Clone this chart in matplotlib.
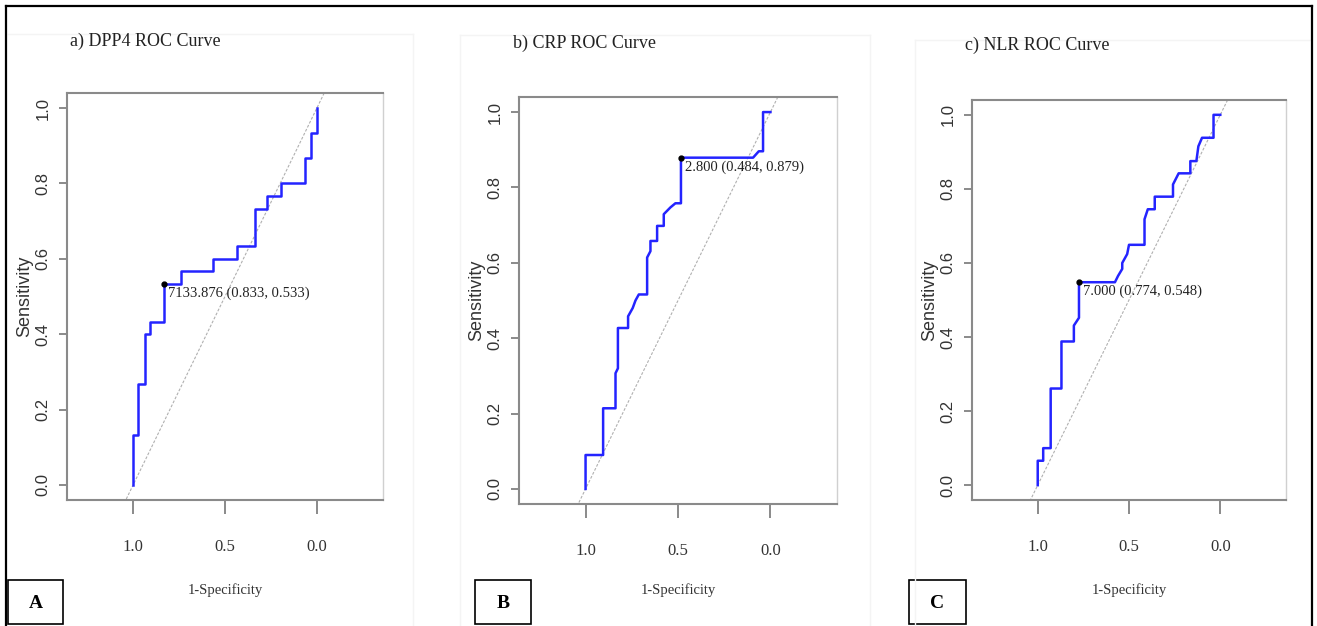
import matplotlib
matplotlib.use("Agg")
import matplotlib.pyplot as plt
from matplotlib.lines import Line2D
from matplotlib.patches import Rectangle
import numpy as np

# ---- data ----
titles = ["a) DPP4 ROC Curve", "b) CRP ROC Curve", "c) NLR ROC Curve"]
tags = ["A", "B", "C"]

spec_dpp4 = [1, 1, 0.976, 0.976, 0.938, 0.938, 0.907, 0.907, 0.833, 0.833,
             0.738, 0.738, 0.567, 0.567, 0.433, 0.433, 0.337, 0.337, 0.27, 0.27,
             0.197, 0.197, 0.066, 0.066, 0.03, 0.03, 0.0, 0.0]
sens_dpp4 = [0, 0.133, 0.133, 0.267, 0.267, 0.4, 0.4, 0.433, 0.433, 0.533,
             0.533, 0.567, 0.567, 0.6, 0.6, 0.633, 0.633, 0.733, 0.733, 0.767,
             0.767, 0.8, 0.8, 0.867, 0.867, 0.933, 0.933, 1.0]

spec_crp = [1, 1, 0.905, 0.905, 0.838, 0.838, 0.825, 0.825, 0.77, 0.77,
            0.745, 0.73, 0.712, 0.667, 0.667, 0.649, 0.649, 0.613, 0.613, 0.577,
            0.577, 0.541, 0.514, 0.484, 0.484, 0.094, 0.063, 0.04, 0.04, 0.0]
sens_crp = [0, 0.09, 0.09, 0.214, 0.214, 0.307, 0.32, 0.427, 0.427, 0.458,
            0.48, 0.5, 0.516, 0.516, 0.614, 0.631, 0.658, 0.658, 0.698, 0.698,
            0.729, 0.747, 0.758, 0.758, 0.879, 0.879, 0.896, 0.896, 1.0, 1.0]

spec_nlr = [1, 1, 0.97, 0.97, 0.929, 0.929, 0.87, 0.87, 0.802, 0.802,
            0.774, 0.774, 0.577, 0.56, 0.537, 0.537, 0.51, 0.5, 0.415, 0.415,
            0.397, 0.359, 0.359, 0.259, 0.259, 0.228, 0.164, 0.164, 0.131, 0.12,
            0.1, 0.037, 0.037, 0.0]
sens_nlr = [0, 0.066, 0.066, 0.1, 0.1, 0.261, 0.261, 0.388, 0.388, 0.431,
            0.452, 0.548, 0.548, 0.565, 0.584, 0.6, 0.624, 0.649, 0.649, 0.718,
            0.745, 0.745, 0.779, 0.779, 0.812, 0.842, 0.842, 0.875, 0.875, 0.915,
            0.938, 0.938, 1.0, 1.0]

thr_values = ["7133.876", "2.800", "7.000"]
thr_spec = [0.833, 0.484, 0.774]
thr_sens = [0.533, 0.879, 0.548]

xticks = [1.0, 0.5, 0.0]
xtick_labels = ["1.0", "0.5", "0.0"]
yticks = [0.0, 0.2, 0.4, 0.6, 0.8, 1.0]
ytick_labels = ["0.0", "0.2", "0.4", "0.6", "0.8", "1.0"]

curves = [(spec_dpp4, sens_dpp4), (spec_crp, sens_crp), (spec_nlr, sens_nlr)]

# ---- layout (pixels) ----
W, H = 1317, 626
axes_px = [(67, 93, 383, 500), (519, 97, 837, 504), (972, 100, 1286, 500)]
title_px = [(70, 41), (513, 43), (965, 45)]
tag_px = [(8, 580, 63, 624), (475, 580, 531, 624), (909, 580, 966, 624)]

SERIF = "Liberation Serif"
SANS = "Liberation Sans"


def fx(x):
    return x / W


def fy(y):
    return 1 - y / H


fig = plt.figure(figsize=(W / 100, H / 100), dpi=100)
fig.patch.set_facecolor("white")

# very faint borders of the pasted panel images
faint = "#f4f4f4"
for xs, ys in [((8, 413), (34, 34)), ((413, 413), (34, 626)),
               ((460, 870), (35, 35)), ((460, 460), (35, 626)), ((870, 870), (35, 626)),
               ((915, 1311), (40, 40)), ((915, 915), (40, 626))]:
    fig.add_artist(Line2D([fx(xs[0]), fx(xs[1])], [fy(ys[0]), fy(ys[1])],
                          transform=fig.transFigure, color=faint, lw=1))

for i in range(3):
    l, t, r, b = axes_px[i]
    ax = fig.add_axes([fx(l), fy(b), (r - l) / W, (b - t) / H])
    spec, sens = curves[i]

    ax.axline((1, 0), (0, 1), color="#b0b0b0", lw=0.8, ls=(0, (2.5, 1.5)), zorder=2)
    ax.plot(spec, sens, color="#2424ff", lw=1.8, zorder=3)
    ax.plot(thr_spec[i], thr_sens[i], "o", ms=3.5, color="black", zorder=4)
    label = "%s (%.3f, %.3f)" % (thr_values[i], thr_spec[i], thr_sens[i])
    ax.annotate(label, (thr_spec[i], thr_sens[i]), xytext=(3, -2),
                textcoords="offset points", ha="left", va="top",
                fontsize=10.5, family=SERIF, color="#222222")

    ax.set_xlim(1.36, -0.36)
    ax.set_ylim(-0.04, 1.04)
    ax.set_xticks(xticks)
    ax.set_xticklabels(xtick_labels, family=SERIF, fontsize=12, color="#333333")
    ax.set_yticks(yticks)
    ax.set_yticklabels(ytick_labels, family=SANS, fontsize=12, color="#333333",
                       rotation=90, va="center")
    ax.tick_params(axis="x", length=10, width=1.2, color="#777777", pad=18)
    ax.tick_params(axis="y", length=6, width=1.2, color="#777777", pad=6)

    for side in ["left", "top", "bottom"]:
        ax.spines[side].set_color("#8a8a8a")
        ax.spines[side].set_linewidth(1.5)
    ax.spines["right"].set_color("#d0d0d0")
    ax.spines["right"].set_linewidth(1.0)

    ax.set_xlabel("1-Specificity", family=SERIF, fontsize=10.5, color="#333333")
    ax.xaxis.label.set_va("center")
    ax.xaxis.set_label_coords(0.5, -(590 - b) / (b - t))
    ax.set_ylabel("Sensitivity", family=SANS, fontsize=13, color="#333333")
    ax.yaxis.label.set_va("center")
    ax.yaxis.set_label_coords(-42 / (r - l), 0.5)

    fig.text(fx(title_px[i][0]), fy(title_px[i][1]), titles[i], ha="left",
             va="center", fontsize=13, family=SERIF, color="#222222")

    tl, tt, tr, tb = tag_px[i]
    fig.add_artist(Rectangle((fx(tl), fy(tb)), (tr - tl) / W, (tb - tt) / H,
                             transform=fig.transFigure, fill=False,
                             ec="black", lw=1.2))
    fig.text(fx((tl + tr) / 2), fy((tt + tb) / 2 + 1), tags[i], ha="center",
             va="center", fontsize=14, fontweight="bold", family=SERIF)

# outer black frame (bottom edge is cut off in the reference)
for xs, ys in [((6, 1312), (6, 6)), ((6, 6), (6, 626)), ((1312, 1312), (6, 626))]:
    fig.add_artist(Line2D([fx(xs[0]), fx(xs[1])], [fy(ys[0]), fy(ys[1])],
                          transform=fig.transFigure, color="black", lw=1.6))

fig.savefig("out.png", dpi=100)
